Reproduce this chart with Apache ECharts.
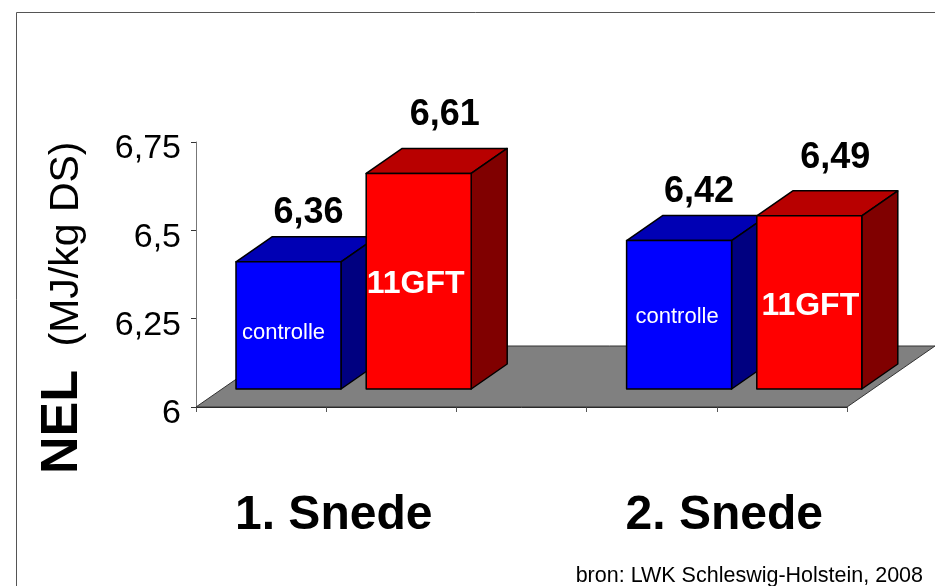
<!DOCTYPE html>
<html><head><meta charset="utf-8">
<style>html,body{margin:0;padding:0;background:#fff}#c{width:935px;height:586px}</style>
<script src="https://cdn.jsdelivr.net/npm/echarts@6/dist/echarts.min.js"></script>
</head><body><div id="c"></div>
<script>
const snedes = ['1. Snede', '2. Snede'];
const controlle = [6.36, 6.42];
const gft = [6.61, 6.49];
const yTicks = {6: '6', 6.25: '6,25', 6.5: '6,5', 6.75: '6,75'};
const FONT = '"Liberation Sans", Arial, sans-serif';
const dec = v => String(v).replace('.', ',');

// Rows: [slot on the x scale, value, name inside bar, group]
const rows = [];
snedes.forEach((s, i) => {
  rows.push([i * 3, controlle[i], 'controlle', 0]);
  rows.push([i * 3 + 1, gft[i], '11GFT', 1]);
});

const palette = [
  {front: '#0000ff', top: '#0000b4', side: '#000080'},
  {front: '#ff0000', top: '#b80000', side: '#800000'}
];
const BAR = {off: 40, lift: 18, w: 105, dx: 36, dy: 25};
// Inner label placement per bar: x from bar left, y above bar bottom
const innerPos = [[47.5, 56], [49.5, 105], [50.5, 72], [53.5, 83]];
const stroke = {stroke: '#000', lineWidth: 1.5, lineJoin: 'round'};

function renderBar(params, api) {
  const slot = api.value(0), val = api.value(1), g = api.value(3);
  const name = rows[params.dataIndex][2];
  const p0 = api.coord([slot, 6]), p1 = api.coord([slot, val]);
  const x0 = p0[0] + BAR.off, x1 = x0 + BAR.w;
  const yb = p0[1] - BAR.lift, yt = p1[1] - BAR.lift;
  const c = palette[g];
  const pos = innerPos[params.dataIndex];
  const poly = (pts, fill) => ({type: 'polygon', shape: {points: pts}, style: Object.assign({fill}, stroke)});
  return {type: 'group', children: [
    poly([[x0, yt], [x1, yt], [x1 + BAR.dx, yt - BAR.dy], [x0 + BAR.dx, yt - BAR.dy]], c.top),
    poly([[x1, yt], [x1 + BAR.dx, yt - BAR.dy], [x1 + BAR.dx, yb - BAR.dy], [x1, yb]], c.side),
    poly([[x0, yt], [x1, yt], [x1, yb], [x0, yb]], c.front),
    {type: 'text', style: {x: x0 + pos[0], y: yb - pos[1], text: name, fill: '#fff', align: 'center', verticalAlign: 'middle',
      font: (g ? 'bold 32px ' : '22px ') + FONT}},
    {type: 'text', style: {x: x0 + BAR.w / 2 + (g ? 26 : 20), y: yt - BAR.dy - (g ? 33 : 24), text: dec(val), fill: '#000',
      align: 'center', verticalAlign: 'middle', font: 'bold 36px ' + FONT}}
  ]};
}
function renderFloor(params, api) {
  const a = api.coord([0, 6]), b = api.coord([5, 6]);
  return {type: 'polygon', shape: {points: [a, b, [b[0] + 88, b[1] - 61], [a[0] + 88, a[1] - 61]]},
    style: {fill: '#808080', stroke: '#333', lineWidth: 1}};
}

const chart = echarts.init(document.getElementById('c'), null, {renderer: 'canvas'});
chart.setOption({
  animation: false,
  backgroundColor: '#fff',
  grid: {left: 196, top: 142, width: 651, height: 265, containLabel: false},
  xAxis: {
    type: 'value', min: 0, max: 5, interval: 1,
    splitLine: {show: false},
    axisLine: {onZero: false, lineStyle: {color: '#222', width: 1}},
    axisTick: {length: 5, lineStyle: {color: '#555'}},
    axisLabel: {
      show: true, showMinLabel: true, showMaxLabel: true, hideOverlap: false,
      margin: 85, color: '#000', fontFamily: FONT, fontSize: 48, fontWeight: 'bold', padding: [0, 0, 0, 15],
      formatter: v => v === 1 ? snedes[0] : v === 4 ? snedes[1] : ''
    }
  },
  yAxis: {
    type: 'value', min: 6, max: 6.75, interval: 0.25,
    splitLine: {show: false},
    axisLine: {show: true, onZero: false, lineStyle: {color: '#777', width: 1}},
    axisTick: {show: true, length: 5, lineStyle: {color: '#333'}},
    axisLabel: {margin: 15, color: '#000', fontFamily: FONT, fontSize: 34, verticalAlign: 'top', lineHeight: 14, formatter: v => yTicks[v]}
  },
  graphic: [
    {type: 'polyline', silent: true, shape: {points: [[16.5, 586], [16.5, 12.5], [935, 12.5]]}, style: {fill: 'none', stroke: '#555', lineWidth: 1}},
    {type: 'text', x: 67, y: 244, rotation: Math.PI / 2, style: {text: '(MJ/kg DS)', font: '41px ' + FONT, fill: '#000', align: 'center', verticalAlign: 'middle'}},
    {type: 'text', x: 63, y: 422, rotation: Math.PI / 2, style: {text: 'NEL', font: 'bold 52px ' + FONT, fill: '#000', align: 'center', verticalAlign: 'middle'}},
    {type: 'text', x: 923, y: 576, style: {text: 'bron: LWK Schleswig-Holstein, 2008', font: '21.5px ' + FONT, fill: '#000', align: 'right', verticalAlign: 'middle'}}
  ],
  series: [
    {type: 'custom', coordinateSystem: 'cartesian2d', clip: false, silent: true, renderItem: renderFloor, data: [[0, 6]], z: 1},
    {type: 'custom', coordinateSystem: 'cartesian2d', clip: false, silent: true, renderItem: renderBar,
      encode: {x: 0, y: 1}, data: rows.map(r => [r[0], r[1], 0, r[3]]), z: 2}
  ]
});
</script></body></html>
